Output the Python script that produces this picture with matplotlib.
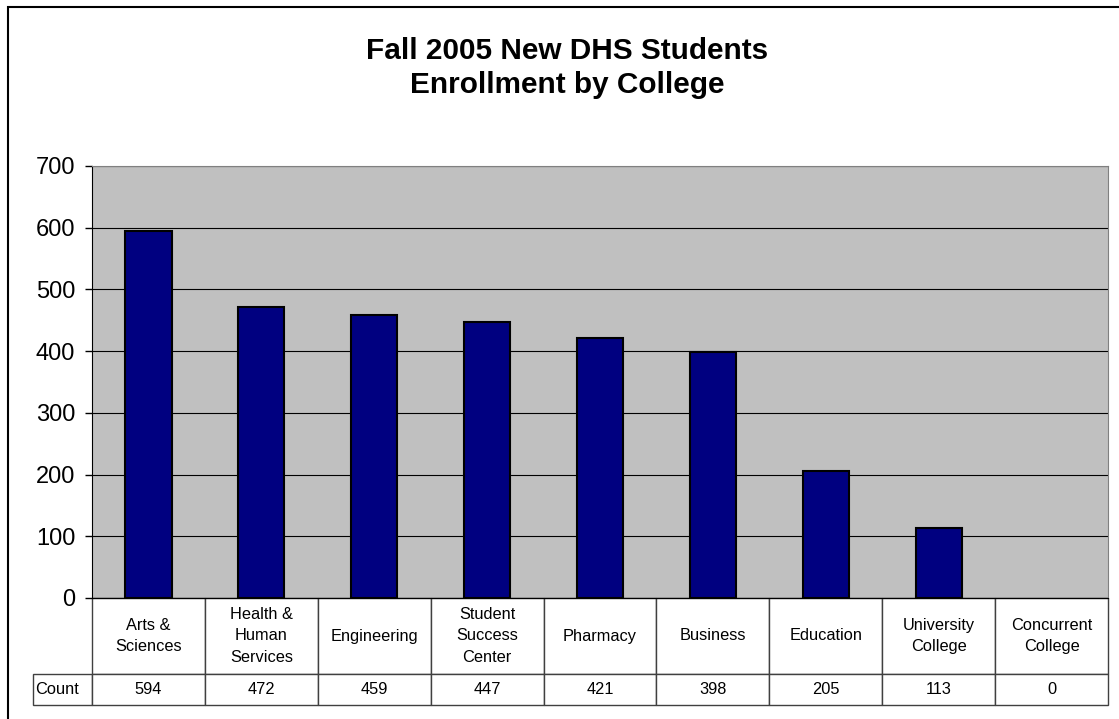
import matplotlib.pyplot as plt
import matplotlib.patches as patches
import numpy as np

# donnees
categories = ['Arts &\nSciences', 'Health &\nHuman\nServices', 'Engineering',
              'Student\nSuccess\nCenter', 'Pharmacy', 'Business', 'Education',
              'University\nCollege', 'Concurrent\nCollege']
counts = [594, 472, 459, 447, 421, 398, 205, 113, 0]
row_label = 'Count'
title = 'Fall 2005 New DHS Students\nEnrollment by College'
yticks = [0, 100, 200, 300, 400, 500, 600, 700]

plt.rcParams['font.family'] = ['Liberation Sans', 'DejaVu Sans']

W, H = 1119, 719
fig = plt.figure(figsize=(W / 100, H / 100), dpi=100)

# cadre du graphique (coupe a droite et en bas)
fig.patches.append(patches.Rectangle((8 / W, -0.1), 1.2, 1 - 7 / H + 0.1,
                                     transform=fig.transFigure, fill=False,
                                     edgecolor='black', linewidth=1.5))

left, right, top, bottom = 92, 1108, 166, 598
ax = fig.add_axes([left / W, 1 - bottom / H, (right - left) / W, (bottom - top) / H])
ax.set_facecolor('#C0C0C0')

x = np.arange(len(counts))
ax.bar(x, counts, width=0.41, color='#000080', edgecolor='black',
       linewidth=[1.5 if c > 0 else 0 for c in counts], zorder=3)

ax.set_xlim(-0.5, len(counts) - 0.5)
ax.set_ylim(0, 700)
ax.set_yticks(yticks)
ax.set_xticks([])
ax.yaxis.grid(True, color='black', linewidth=0.8)
ax.set_axisbelow(True)
ax.tick_params(axis='y', direction='out', length=5, width=1, labelsize=17, pad=7)
ax.spines['left'].set_color('black')
ax.spines['bottom'].set_color('black')
ax.spines['top'].set_color('#808080')
ax.spines['right'].set_color('#808080')

fig.text(567 / W, 1 - 68 / H, title, ha='center', va='center', fontsize=21.4,
         fontweight='bold', linespacing=1.3)

# tableau de donnees sous le graphique (premiere colonne = libelle de ligne)
ax_h = bottom - top
ax_w = right - left
lab_w = 59
tab_h = 107
cell_text = [[row_label] + [str(c) for c in counts]]
col_labels = [''] + categories
tbl = ax.table(cellText=cell_text, colLabels=col_labels, cellLoc='center',
               bbox=[-lab_w / ax_w, -tab_h / ax_h, 1 + lab_w / ax_w, tab_h / ax_h])
tbl.auto_set_font_size(False)
tbl.set_fontsize(11.8)
for (r, c), cell in tbl.get_celld().items():
    cell.set_edgecolor('#404040')
    cell.set_linewidth(1)
    cell.set_width(lab_w if c == 0 else ax_w / len(counts))
    cell.set_height(76 if r == 0 else 31)
    cell.get_text().set_linespacing(1.58)
    if c == 0:
        if r == 0:
            cell.visible_edges = ''
        else:
            cell.set_text_props(ha='left')
            cell.PAD = 0.03

fig.savefig('out.png', dpi=100)
